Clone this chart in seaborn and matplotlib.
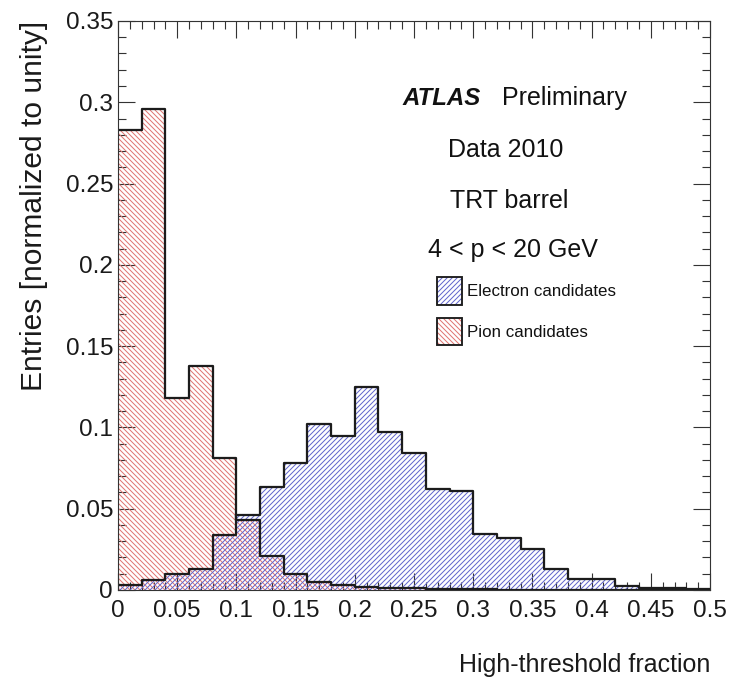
import numpy as np
import pandas as pd
import matplotlib
matplotlib.use("Agg")
import matplotlib.pyplot as plt
from matplotlib import font_manager
from matplotlib.patches import Patch
from matplotlib.ticker import MultipleLocator
import seaborn as sns

# ---------------- data ----------------
bin_edges = [0.00, 0.02, 0.04, 0.06, 0.08, 0.10, 0.12, 0.14, 0.16, 0.18, 0.20,
             0.22, 0.24, 0.26, 0.28, 0.30, 0.32, 0.34, 0.36, 0.38, 0.40,
             0.42, 0.44, 0.46, 0.48, 0.50]
electron_frac = [0.003, 0.006, 0.010, 0.013, 0.034, 0.046, 0.0635, 0.078, 0.102,
                 0.0945, 0.125, 0.097, 0.084, 0.062, 0.061, 0.0345, 0.032, 0.0253,
                 0.0128, 0.0066, 0.007, 0.0025, 0.0015, 0.001, 0.0005]
pion_frac = [0.283, 0.296, 0.118, 0.138, 0.081, 0.043, 0.021, 0.010, 0.005,
             0.003, 0.002, 0.0012, 0.001, 0.0007, 0.0005, 0.0004, 0.0003, 0.0002,
             0.0002, 0.0001, 0.0001, 0.0, 0.0, 0.0, 0.0]
series_names = ["Electron candidates", "Pion candidates"]
x_ticks = [0.0, 0.05, 0.1, 0.15, 0.2, 0.25, 0.3, 0.35, 0.4, 0.45, 0.5]
x_tick_labels = ["0", "0.05", "0.1", "0.15", "0.2", "0.25", "0.3", "0.35", "0.4", "0.45", "0.5"]
y_ticks = [0.0, 0.05, 0.1, 0.15, 0.2, 0.25, 0.3, 0.35]
y_tick_labels = ["0", "0.05", "0.1", "0.15", "0.2", "0.25", "0.3", "0.35"]
x_title = "High-threshold fraction"
y_title = "Entries [normalized to unity]"
info_lines = ["Data 2010", "TRT barrel", "4 < p < 20 GeV"]

# ---------------- style ----------------
sns.set_style("ticks")
plt.rcParams["font.family"] = ["Liberation Sans", "DejaVu Sans"]
plt.rcParams["hatch.linewidth"] = 0.8

names = {f.name for f in font_manager.fontManager.ttflist}
narrow = "Liberation Sans Narrow" in names
ann_family = ["Liberation Sans Narrow", "Liberation Sans"] if narrow else ["Liberation Sans", "DejaVu Sans"]
ann_size = 24 if narrow else 20
leg_size = 16 if narrow else 13.5

DPI = 90
fig = plt.figure(figsize=(738 / DPI, 685 / DPI), dpi=DPI)
fig.patch.set_facecolor("white")
ax = fig.add_axes([0.1599, 0.1387, 0.8022, 0.8307])
ax.set_facecolor("white")

centers = [(a + b) / 2 for a, b in zip(bin_edges[:-1], bin_edges[1:])]
df = pd.DataFrame({
    "fraction": centers * 2,
    "weight": electron_frac + pion_frac,
    "sample": [series_names[0]] * len(centers) + [series_names[1]] * len(centers),
})

blue = "#6266cc"
red = "#e07572"
outline = "#1c1c1c"
styles = {series_names[1]: (red, "\\" * 6), series_names[0]: (blue, "/" * 6)}

for name in [series_names[1], series_names[0]]:
    col, hatch = styles[name]
    sub = df[df["sample"] == name]
    sns.histplot(data=sub, x="fraction", weights="weight", bins=bin_edges,
                 element="step", fill=True, stat="count", ax=ax, color=col,
                 facecolor="none", edgecolor=col, linewidth=0, hatch=hatch)
for name in [series_names[1], series_names[0]]:
    sub = df[df["sample"] == name]
    sns.histplot(data=sub, x="fraction", weights="weight", bins=bin_edges,
                 element="step", fill=False, stat="count", ax=ax,
                 color=outline, linewidth=1.8)

ax.set_xlim(0, 0.5)
ax.set_ylim(0, 0.35)
ax.set_xticks(x_ticks, labels=x_tick_labels)
ax.set_yticks(y_ticks, labels=y_tick_labels)
ax.xaxis.set_minor_locator(MultipleLocator(0.01))
ax.yaxis.set_minor_locator(MultipleLocator(0.01))
ax.tick_params(which="both", direction="in", top=True, right=True,
               colors="#333333", labelcolor="#1a1a1a", width=0.9)
ax.tick_params(which="major", length=13.5, labelsize=19.5)
ax.tick_params(axis="x", which="major", pad=8)
ax.tick_params(axis="y", which="major", pad=4)
ax.tick_params(which="minor", length=6.5)
for s in ax.spines.values():
    s.set_color("#333333")
    s.set_linewidth(0.9)

ax.set_xlabel(x_title, fontsize=20, color="#1a1a1a", loc="right")
ax.xaxis.set_label_coords(1.0, -0.132)
ax.xaxis.label.set_verticalalignment("center")
ax.set_ylabel(y_title, fontsize=24, color="#1a1a1a", loc="top")
ax.yaxis.set_label_coords(-0.1420, 1.0)
ax.yaxis.label.set_verticalalignment("center")

# annotations
ax.text(0.481, 0.8524, "ATLAS", transform=ax.transAxes, ha="left", va="baseline",
        fontsize=ann_size * 0.96, fontweight="bold", fontstyle="italic",
        family=ann_family, color="#111111")
ax.text(0.649, 0.8524, "Preliminary", transform=ax.transAxes, ha="left", va="baseline",
        fontsize=ann_size, family=ann_family, color="#111111")
for txt, yb, xc in zip(info_lines, [0.7615, 0.6708, 0.5858], [0.6546, 0.6613, 0.6664]):
    ax.text(xc, yb, txt, transform=ax.transAxes, ha="center", va="baseline",
            fontsize=ann_size, family=ann_family, color="#111111")

handles = []
for name in series_names:
    col, hatch = styles[name]
    handles.append((Patch(facecolor="none", edgecolor=col, linewidth=0, hatch=hatch),
                    Patch(facecolor="none", edgecolor=outline, linewidth=1.5)))
fs_px = leg_size * DPI / 72
leg = ax.legend(handles, series_names, loc="upper left",
                bbox_to_anchor=(0.5383, 0.5496), bbox_transform=ax.transAxes,
                frameon=False, borderpad=0, borderaxespad=0,
                handlelength=25 / fs_px, handleheight=36 / fs_px,
                handletextpad=5 / fs_px, labelspacing=13 / fs_px,
                prop={"family": ann_family, "size": leg_size})
for t in leg.get_texts():
    t.set_color("#111111")

fig.savefig("out.png", dpi=DPI, facecolor="white")
